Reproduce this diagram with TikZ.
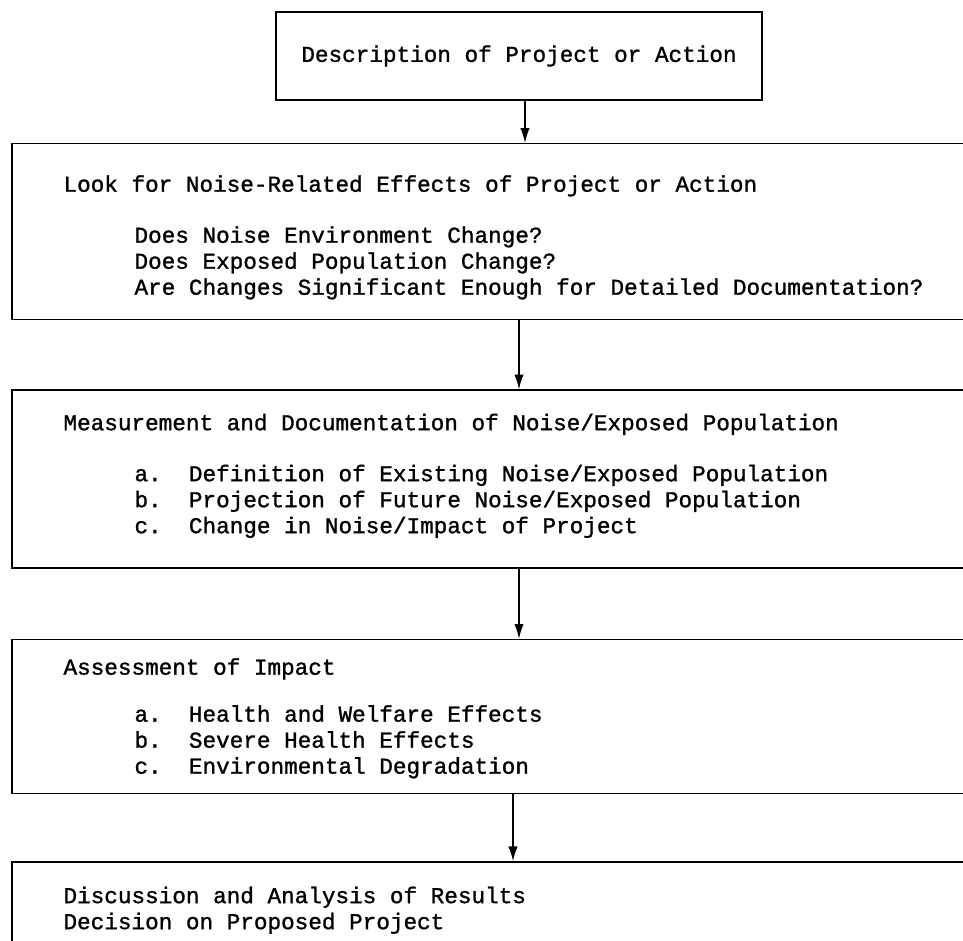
\documentclass[tikz,border=0pt]{standalone}
\usepackage{fontspec}
\setmonofont{Liberation Mono}[BoldFont=Liberation Mono,BoldFeatures={FakeBold=1.2}]
\usetikzlibrary{positioning,arrows.meta}

\begin{document}
\begin{tikzpicture}[node distance=51.75pt,
    stage/.style={draw,line width=1.1pt,minimum width=714pt,inner sep=0pt},
    txt/.style={font=\ttfamily\bfseries\fontsize{17}{19.5}\selectfont,align=left,inner sep=0pt,anchor=base west},
    flow/.style={-{Latex[length=11pt,width=7pt]},line width=0.9pt}]
    \useasboundingbox (-389.25pt,42pt) rectangle (333pt,-663.75pt);
    % the five stages
    \node[stage,minimum width=364.5pt,minimum height=66pt,font=\ttfamily\bfseries\fontsize{17}{19.5}\selectfont] (desc) at (0,0) {Description of Project or Action};
    \node[stage,minimum height=132pt,below=31.5pt of desc,xshift=-23.25pt] (look) {};
    \node[stage,minimum height=133.5pt,below=of look] (measure) {};
    \node[stage,minimum height=115.5pt,below=52.5pt of measure] (assess) {};
    \node[stage,minimum height=76.5pt,below=50.25pt of assess] (decide) {};
    % texts (base of a block is its last line)
    \node[txt] (lookT) at ([shift={(39pt,-36.75pt)}]look.north west) {Look for Noise-Related Effects of Project or Action};
    \node[txt] (lookL) at ([shift={(53.25pt,-77.25pt)}]lookT.base west) {Does Noise Environment Change?\\Does Exposed Population Change?\\Are Changes Significant Enough for Detailed Documentation?};
    \node[txt] (measureT) at ([shift={(39pt,-30.75pt)}]measure.north west) {Measurement and Documentation of Noise/Exposed Population};
    \node[txt] (measureL) at ([shift={(53.25pt,-77.25pt)}]measureT.base west) {a.~~Definition of Existing Noise/Exposed Population\\b.~~Projection of Future Noise/Exposed Population\\c.~~Change in Noise/Impact of Project};
    \node[txt] (assessT) at ([shift={(39pt,-27pt)}]assess.north west) {Assessment of Impact};
    \node[txt] (assessL) at ([shift={(53.25pt,-74.25pt)}]assessT.base west) {a.~~Health and Welfare Effects\\b.~~Severe Health Effects\\c.~~Environmental Degradation};
    \node[txt] (decideT) at ([shift={(39pt,-51pt)}]decide.north west) {Discussion and Analysis of Results\\Decision on Proposed Project};
    % arrows
    \draw[flow] ([xshift=4.5pt]desc.south) -- ([xshift=4.5pt]desc.south |- look.north);
    \draw[flow] ([xshift=23.25pt]look.south) -- ([xshift=23.25pt]look.south |- measure.north);
    \draw[flow] ([xshift=23.25pt]measure.south) -- ([xshift=23.25pt]measure.south |- assess.north);
    \draw[flow] ([xshift=18.75pt]assess.south) -- ([xshift=18.75pt]assess.south |- decide.north);
\end{tikzpicture}
\end{document}
